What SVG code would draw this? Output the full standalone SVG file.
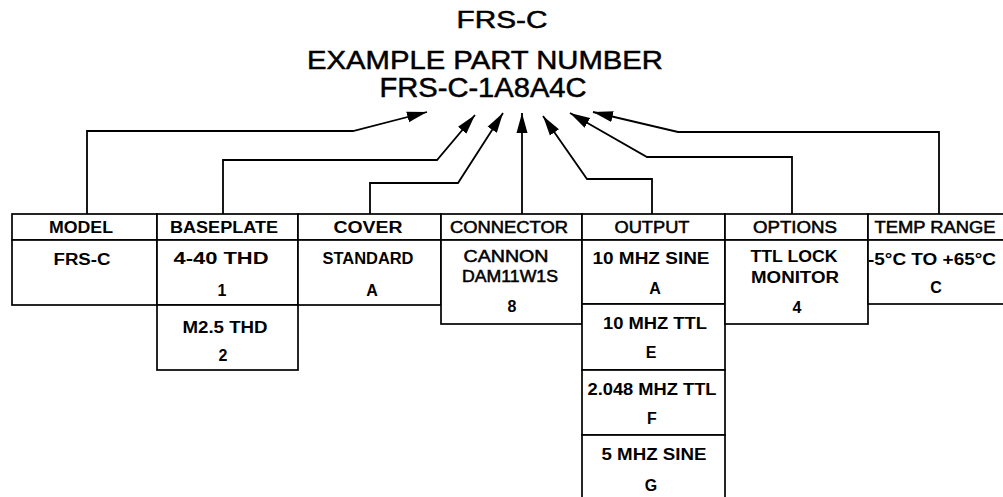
<svg xmlns="http://www.w3.org/2000/svg" width="1003" height="497" viewBox="0 0 1003 497">
<style>
.t{font-family:"Liberation Sans",Arial,sans-serif;fill:#000;text-anchor:middle}
.m{stroke:#000;stroke-width:0.5}
.h{font-size:16px}
.d{font-size:16px}
.b{font-weight:bold}
.cell{fill:#fff;stroke:#000;stroke-width:1.7}
.conn{fill:none;stroke:#000;stroke-width:1.8;stroke-linejoin:miter}
</style>
<defs>
<marker id="ah" markerUnits="userSpaceOnUse" markerWidth="22" markerHeight="12" refX="20" refY="6" orient="auto">
<path d="M0,0.5 L20,6 L0,11.5 Z" fill="#000"/>
</marker>
</defs>
<rect width="1003" height="497" fill="#fff"/>

<g id="title">
<text class="t m" x="502" y="28" font-size="24" textLength="91" lengthAdjust="spacingAndGlyphs">FRS-C</text>
<text class="t m" x="485" y="69" font-size="26.5" textLength="356" lengthAdjust="spacingAndGlyphs">EXAMPLE PART NUMBER</text>
<text class="t m" x="483" y="97" font-size="27" textLength="207" lengthAdjust="spacingAndGlyphs">FRS-C-1A8A4C</text>
</g>

<g id="connectors">
<path class="conn" marker-end="url(#ah)" d="M87,214 V131 H353 L427,112"/>
<path class="conn" marker-end="url(#ah)" d="M223,214 V160 H437 L475,115"/>
<path class="conn" marker-end="url(#ah)" d="M370,214 V183 H458 L503,113"/>
<path class="conn" marker-end="url(#ah)" d="M522,214 V113"/>
<path class="conn" marker-end="url(#ah)" d="M652,214 V179 H587 L543,116"/>
<path class="conn" marker-end="url(#ah)" d="M792,214 V157 H647 L570,113"/>
<path class="conn" marker-end="url(#ah)" d="M939,214 V132 H678 L593,112"/>
</g>

<g id="model">
<rect class="cell" x="12" y="214" width="145" height="26"/>
<rect class="cell" x="12" y="240" width="145" height="65"/>
<text class="t h b" x="81" y="233" textLength="64" lengthAdjust="spacingAndGlyphs">MODEL</text>
<text class="t d b" x="82" y="265" textLength="57" lengthAdjust="spacingAndGlyphs">FRS-C</text>
</g>

<g id="baseplate">
<rect class="cell" x="157" y="214" width="141" height="26"/>
<rect class="cell" x="157" y="240" width="141" height="65"/>
<rect class="cell" x="157" y="305" width="141" height="65"/>
<text class="t h b" x="224" y="233" textLength="108" lengthAdjust="spacingAndGlyphs">BASEPLATE</text>
<text class="t d b" x="221" y="264" textLength="95" lengthAdjust="spacingAndGlyphs">4-40 THD</text>
<text class="t d b" x="222" y="296">1</text>
<text class="t d b" x="225" y="333" textLength="85" lengthAdjust="spacingAndGlyphs">M2.5 THD</text>
<text class="t d b" x="223" y="361">2</text>
</g>

<g id="cover">
<rect class="cell" x="298" y="214" width="143" height="26"/>
<rect class="cell" x="298" y="240" width="143" height="65"/>
<text class="t h b" x="368" y="233" textLength="69" lengthAdjust="spacingAndGlyphs">COVER</text>
<text class="t d b" x="368" y="264" textLength="91" lengthAdjust="spacingAndGlyphs">STANDARD</text>
<text class="t d b" x="372" y="296">A</text>
</g>

<g id="connector">
<rect class="cell" x="441" y="214" width="141" height="26"/>
<rect class="cell" x="441" y="240" width="141" height="84"/>
<text class="t h m" x="509" y="233" textLength="118" lengthAdjust="spacingAndGlyphs">CONNECTOR</text>
<text class="t d m" x="506" y="262" textLength="85" lengthAdjust="spacingAndGlyphs">CANNON</text>
<text class="t d m" x="510" y="282" textLength="96" lengthAdjust="spacingAndGlyphs">DAM11W1S</text>
<text class="t d b" x="512" y="312">8</text>
</g>

<g id="output">
<rect class="cell" x="582" y="214" width="143" height="26"/>
<rect class="cell" x="582" y="240" width="143" height="64"/>
<rect class="cell" x="582" y="304" width="143" height="66"/>
<rect class="cell" x="582" y="370" width="143" height="65"/>
<rect class="cell" x="582" y="435" width="143" height="70"/>
<text class="t h m" x="652" y="233" textLength="75" lengthAdjust="spacingAndGlyphs">OUTPUT</text>
<text class="t d b" x="651" y="264" textLength="117" lengthAdjust="spacingAndGlyphs">10 MHZ SINE</text>
<text class="t d b" x="655" y="294">A</text>
<text class="t d b" x="655" y="329" textLength="104" lengthAdjust="spacingAndGlyphs">10 MHZ TTL</text>
<text class="t d b" x="651" y="358">E</text>
<text class="t d b" x="652" y="395" textLength="129" lengthAdjust="spacingAndGlyphs">2.048 MHZ TTL</text>
<text class="t d b" x="652" y="424">F</text>
<text class="t d b" x="654" y="460" textLength="105" lengthAdjust="spacingAndGlyphs">5 MHZ SINE</text>
<text class="t d b" x="651" y="491">G</text>
</g>

<g id="options">
<rect class="cell" x="725" y="214" width="143" height="26"/>
<rect class="cell" x="725" y="240" width="143" height="84"/>
<text class="t h m" x="795" y="233" textLength="84" lengthAdjust="spacingAndGlyphs">OPTIONS</text>
<text class="t d b" x="794" y="262" textLength="87" lengthAdjust="spacingAndGlyphs">TTL LOCK</text>
<text class="t d b" x="795" y="283" textLength="88" lengthAdjust="spacingAndGlyphs">MONITOR</text>
<text class="t d b" x="797" y="313">4</text>
</g>

<g id="temp-range">
<rect class="cell" x="868" y="214" width="140" height="26"/>
<rect class="cell" x="868" y="240" width="140" height="64"/>
<text class="t h m" x="935" y="233" textLength="121" lengthAdjust="spacingAndGlyphs">TEMP RANGE</text>
<text class="t d b" x="932" y="265" textLength="128" lengthAdjust="spacingAndGlyphs">-5°C TO +65°C</text>
<text class="t d b" x="936" y="293">C</text>
</g>
</svg>
